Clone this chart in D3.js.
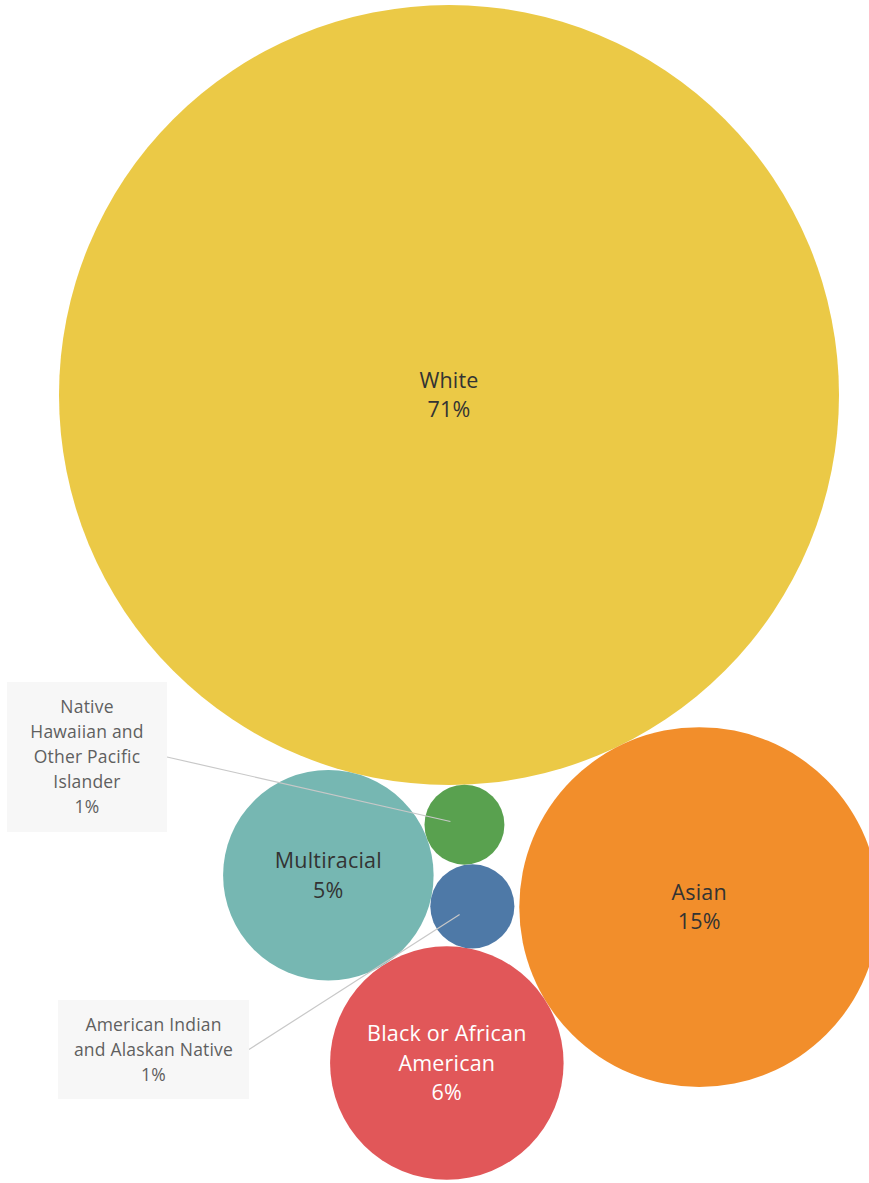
<!DOCTYPE html>
<html>
<head>
<meta charset="utf-8">
<script src="https://cdn.jsdelivr.net/npm/d3@7"></script>
<style>
  html, body { margin: 0; padding: 0; background: #ffffff; }
  svg { display: block; }
</style>
</head>
<body>
<svg id="chart" width="869" height="1183"></svg>
<script>
// Share of population by race
const groups = ["White", "Asian", "Black or African American", "Multiracial",
                "Native Hawaiian and Other Pacific Islander", "American Indian and Alaskan Native"];
const shares = [71.4, 15.2, 6.4, 5.2, 0.75, 0.83];
const colors = ["#EBC946", "#F28E2B", "#E15759", "#76B7B2", "#59A14F", "#4E79A7"];

// Label lines drawn inside the bubbles (null = labelled by a callout box)
const innerLabels = [["White"], ["Asian"], ["Black or African", "American"], ["Multiracial"], null, null];
const innerTextColor = ["#333333", "#333333", "#ffffff", "#333333", null, null];

// Callout boxes for the two smallest groups
const calloutLines = {
  4: ["Native", "Hawaiian and", "Other Pacific", "Islander"],
  5: ["American Indian", "and Alaskan Native"]
};
const calloutBoxes = {
  4: { x: 7, y: 682, w: 160, h: 150 },
  5: { x: 58, y: 1000, w: 191, h: 99 }
};

const fmt = v => d3.format(".0f")(v) + "%";

const svg = d3.select("#chart");
const rScale = d3.scaleSqrt().domain([0, d3.max(shares)]).range([0, 390]);

const nodes = groups.map((g, i) => ({ i, name: g, value: shares[i], r: rScale(shares[i]) }));
const [W, AS, BL, MU, NH, AI] = nodes;

// Put circle c tangent to circles a and b; side = +1/-1 picks which side of a→b
function placeTangent(a, b, c, side) {
  const da = a.r + c.r, db = b.r + c.r;
  const dx = b.x - a.x, dy = b.y - a.y;
  const d = Math.hypot(dx, dy);
  const ux = dx / d, uy = dy / d;
  const along = (da * da - db * db + d * d) / (2 * d);
  const h = Math.sqrt(Math.max(0, da * da - along * along));
  c.x = a.x + along * ux - side * h * uy;
  c.y = a.y + along * uy + side * h * ux;
}

// Packed-bubble arrangement grown around the largest bubble
W.x = 449; W.y = 395;
const muAngle = 104.1 * Math.PI / 180;
MU.x = W.x + (W.r + MU.r) * Math.cos(muAngle);
MU.y = W.y + (W.r + MU.r) * Math.sin(muAngle);
placeTangent(W, MU, NH, -1);
placeTangent(NH, MU, AI, -1);
placeTangent(MU, AI, BL, 1);
placeTangent(W, BL, AS, -1);

// Bubbles
svg.append("g").selectAll("circle")
  .data(nodes)
  .join("circle")
  .attr("cx", d => d.x)
  .attr("cy", d => d.y)
  .attr("r", d => d.r)
  .attr("fill", d => colors[d.i]);

const fontFamily = "'Open Sans', 'Noto Sans', sans-serif";

// Labels inside bubbles
const lineH = 29.5;
nodes.forEach(d => {
  const lines = innerLabels[d.i];
  if (!lines) return;
  const all = lines.concat([fmt(d.value)]);
  const y0 = d.y - (all.length - 1) * lineH / 2;
  svg.append("text")
    .attr("text-anchor", "middle")
    .attr("font-family", fontFamily)
    .attr("font-size", 21.5)
    .attr("letter-spacing", 0.2)
    .attr("fill", innerTextColor[d.i])
    .selectAll("tspan")
    .data(all)
    .join("tspan")
    .attr("x", d.x)
    .attr("y", (t, k) => y0 + k * lineH)
    .attr("dy", "0.35em")
    .text(t => t);
});

// Callouts: leader line, box and text
const calloutG = svg.append("g");
[NH, AI].forEach(d => {
  const box = calloutBoxes[d.i];
  const ax = box.x + box.w, ay = box.y + box.h / 2;
  const vx = ax - d.x, vy = ay - d.y, vl = Math.hypot(vx, vy);
  const px = d.x + vx / vl * d.r * 0.36, py = d.y + vy / vl * d.r * 0.36;

  calloutG.append("line")
    .attr("x1", ax).attr("y1", ay)
    .attr("x2", px).attr("y2", py)
    .attr("stroke", "#c8c8c8")
    .attr("stroke-width", 1.2);

  calloutG.append("rect")
    .attr("x", box.x).attr("y", box.y)
    .attr("width", box.w).attr("height", box.h)
    .attr("fill", "#f7f7f7");

  const all = calloutLines[d.i].concat([fmt(d.value)]);
  const lh = 25;
  const y0 = box.y + box.h / 2 - (all.length - 1) * lh / 2;
  calloutG.append("text")
    .attr("text-anchor", "middle")
    .attr("font-family", fontFamily)
    .attr("font-size", 17.5)
    .attr("letter-spacing", 0.2)
    .attr("fill", "#5f5f5f")
    .selectAll("tspan")
    .data(all)
    .join("tspan")
    .attr("x", box.x + box.w / 2)
    .attr("y", (t, k) => y0 + k * lh)
    .attr("dy", "0.35em")
    .text(t => t);
});
</script>
</body>
</html>
